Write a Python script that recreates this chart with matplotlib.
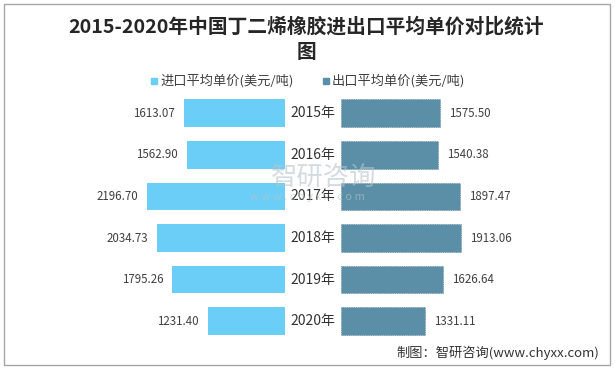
import matplotlib.pyplot as plt
from matplotlib.patches import Rectangle

plt.rcParams['font.family'] = ['Noto Sans CJK SC', 'DejaVu Sans']

years = ['2015年', '2016年', '2017年', '2018年', '2019年', '2020年']
imp = [1613.07, 1562.90, 2196.70, 2034.73, 1795.26, 1231.40]
exp = [1575.50, 1540.38, 1897.47, 1913.06, 1626.64, 1331.11]
imp_label = '进口平均单价(美元/吨)'
exp_label = '出口平均单价(美元/吨)'

c_imp = '#6BCEF6'
c_exp = '#5B8FA7'
txt = '#404040'

fig = plt.figure(figsize=(6.15, 3.7), dpi=100)
W, H = 615, 370

bot = (H - 342) / H
hgt = 249.6 / H
wid = 157 / W
axl = fig.add_axes([128 / W, bot, wid, hgt])
axr = fig.add_axes([341 / W, bot, wid, hgt])

pos = list(range(len(years)))
axl.barh(pos, imp, height=0.66, color=c_imp)
axr.barh(pos, exp, height=0.66, color=c_exp, edgecolor='#4A7A90', linewidth=0.5, linestyle=':')

for ax in (axl, axr):
    ax.set_xlim(0, 2500)
    ax.set_ylim(len(years) - 0.5, -0.5)
    ax.axis('off')
axl.invert_xaxis()

gap = 9 * 2500 / 157
for i, v in enumerate(imp):
    axl.text(v + gap, i, f'{v:.2f}', ha='right', va='center', fontsize=8.3, color=txt)
for i, v in enumerate(exp):
    axr.text(v + gap, i, f'{v:.2f}', ha='left', va='center', fontsize=8.3, color=txt)
for i, y in enumerate(years):
    axr.text(-28 * 2500 / 157, i, y, ha='center', va='center', fontsize=10, color='#333333')

fig.text(306 / W, 1 - 27 / H, '2015-2020年中国丁二烯橡胶进出口平均单价对比统计', ha='center', va='center',
         fontsize=14.2, fontweight='bold', color='#262626')
fig.text(306 / W, 1 - 53 / H, '图', ha='center', va='center', fontsize=14.2, fontweight='bold', color='#262626')

# legend
ly = 1 - 81 / H
fig.patches.append(Rectangle((151 / W, ly - 3 / H), 6 / W, 6 / H, transform=fig.transFigure, color=c_imp))
fig.text(160 / W, ly, imp_label, ha='left', va='center', fontsize=9.5, color=txt)
fig.patches.append(Rectangle((323 / W, ly - 3 / H), 6 / W, 6 / H, transform=fig.transFigure, color=c_exp))
fig.text(332 / W, ly, exp_label, ha='left', va='center', fontsize=9.5, color=txt)

# watermark
fig.text(324 / W, 1 - 177 / H, '智研咨询', ha='center', va='center', fontsize=19, color='#b8c4cc', alpha=0.6)
fig.text(307 / W, 1 - 197 / H, 'w w w . c h y x x . c o m', ha='center', va='center', fontsize=8, color='#b8c4cc', alpha=0.6)

fig.text(599 / W, 1 - 353 / H, '制图：智研咨询(www.chyxx.com)', ha='right', va='center', fontsize=9.5, color='#333333')

fig.patches.append(Rectangle((4 / W, 5 / H), 606 / W, 361 / H, transform=fig.transFigure,
                             fill=False, edgecolor='#a6a6a6', linewidth=1))

fig.savefig('out.png', dpi=100)
